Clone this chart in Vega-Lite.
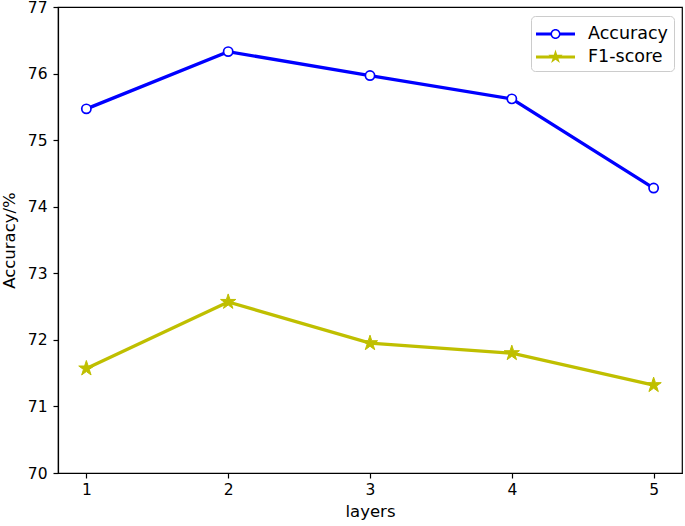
{
  "$schema": "https://vega.github.io/schema/vega-lite/v6.json",
  "width": 624,
  "height": 466,
  "autosize": {"type": "none"},
  "padding": {"left": 58, "top": 7, "right": 3, "bottom": 53},
  "background": "white",
  "config": {
    "font": "DejaVu Sans",
    "view": {"stroke": "black", "strokeWidth": 1.2},
    "axis": {
      "grid": false,
      "domainColor": "black",
      "domainWidth": 1.2,
      "tickColor": "black",
      "tickWidth": 1.2,
      "tickSize": 5,
      "labelColor": "black",
      "labelFont": "DejaVu Sans",
      "labelFontSize": 15.5,
      "titleColor": "black",
      "titleFont": "DejaVu Sans",
      "titleFontSize": 16.5,
      "titleFontWeight": "normal"
    }
  },
  "data": {
    "values": [
      {"layers": 1, "series": "Accuracy", "value": 75.47},
      {"layers": 2, "series": "Accuracy", "value": 76.33},
      {"layers": 3, "series": "Accuracy", "value": 75.97},
      {"layers": 4, "series": "Accuracy", "value": 75.62},
      {"layers": 5, "series": "Accuracy", "value": 74.28},
      {"layers": 1, "series": "F1-score", "value": 71.57},
      {"layers": 2, "series": "F1-score", "value": 72.57},
      {"layers": 3, "series": "F1-score", "value": 71.95},
      {"layers": 4, "series": "F1-score", "value": 71.80},
      {"layers": 5, "series": "F1-score", "value": 71.32}
    ]
  },
  "encoding": {
    "x": {
      "field": "layers",
      "type": "quantitative",
      "scale": {"domain": [0.8, 5.2], "nice": false, "zero": false},
      "axis": {"values": [1, 2, 3, 4, 5], "format": "d", "title": "layers", "labelPadding": 4, "titlePadding": 6}
    },
    "y": {
      "field": "value",
      "type": "quantitative",
      "scale": {"domain": [70, 77], "nice": false, "zero": false},
      "axis": {"values": [70, 71, 72, 73, 74, 75, 76, 77], "title": "Accuracy/%", "labelPadding": 6, "titlePadding": 10}
    }
  },
  "layer": [
    {
      "mark": {"type": "point", "filled": true, "strokeWidth": 0, "opacity": 0},
      "encoding": {
        "color": {
          "field": "series",
          "type": "nominal",
          "scale": {"domain": ["Accuracy", "F1-score"], "range": ["#0000ff", "#bfbf00"]},
          "legend": {
            "title": null,
            "orient": "none",
            "legendX": 473,
            "legendY": 9,
            "padding": 5.5,
            "fillColor": "white",
            "strokeColor": "#cccccc",
            "cornerRadius": 4,
            "symbolSize": 625,
            "symbolOpacity": 1,
            "symbolStrokeWidth": 0,
            "labelFont": "DejaVu Sans",
            "labelFontSize": 17.5,
            "labelColor": "black",
            "labelOffset": 26.5,
            "rowPadding": 2
          }
        },
        "shape": {
          "field": "series",
          "type": "nominal",
          "scale": {
            "domain": ["Accuracy", "F1-score"],
            "range": [
              "M-1.04,-0.12H0.18V0.12H-1.04Z M0.86,-0.12H2.08V0.12H0.86Z M0.12,0A0.4,0.4,0,1,1,0.92,0A0.4,0.4,0,1,1,0.12,0Z M0.24,0A0.28,0.28,0,1,0,0.8,0A0.28,0.28,0,1,0,0.24,0Z",
              "M-1.04,-0.12H2.08V0.12H-1.04Z M0.52,-0.6L0.6547,-0.1854L1.0906,-0.1854L0.7378,0.0708L0.8728,0.4854L0.52,0.2292L0.1672,0.4854L0.3022,0.0708L-0.0506,-0.1854L0.3853,-0.1854Z"
            ]
          },
          "legend": {
            "title": null,
            "orient": "none",
            "legendX": 473,
            "legendY": 9,
            "padding": 5.5,
            "fillColor": "white",
            "strokeColor": "#cccccc",
            "cornerRadius": 4,
            "symbolSize": 625,
            "symbolOpacity": 1,
            "symbolStrokeWidth": 0,
            "labelFont": "DejaVu Sans",
            "labelFontSize": 17.5,
            "labelColor": "black",
            "labelOffset": 26.5,
            "rowPadding": 2
          }
        }
      }
    },
    {
      "mark": {"type": "line", "strokeWidth": 3.3},
      "encoding": {
        "stroke": {
          "field": "series",
          "type": "nominal",
          "scale": {"domain": ["Accuracy", "F1-score"], "range": ["#0000ff", "#bfbf00"]},
          "legend": null
        }
      }
    },
    {
      "transform": [{"filter": "datum.series === 'Accuracy'"}],
      "mark": {"type": "point", "shape": "circle", "size": 85, "filled": false, "fill": "white", "fillOpacity": 1, "stroke": "#0000ff", "strokeWidth": 1.7, "opacity": 1}
    },
    {
      "transform": [{"filter": "datum.series === 'F1-score'"}],
      "mark": {"type": "point", "shape": "M0,-1L0.2245,-0.309L0.951,-0.309L0.363,0.118L0.588,0.809L0,0.382L-0.588,0.809L-0.363,0.118L-0.951,-0.309L-0.2245,-0.309Z", "size": 256, "filled": true, "fill": "#bfbf00", "stroke": "#bfbf00", "strokeWidth": 1, "opacity": 1}
    }
  ]
}
